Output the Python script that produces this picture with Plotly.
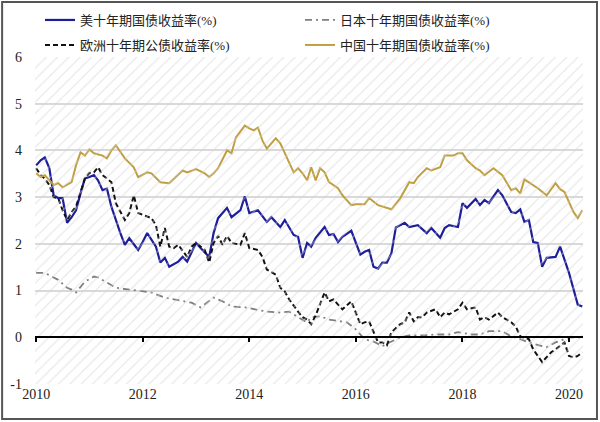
import plotly.graph_objects as go

# --- data ---
us_dates = [
    "2010-01", "2010-02", "2010-03", "2010-04", "2010-05", "2010-06", "2010-07", "2010-08",
    "2010-09", "2010-10", "2010-11", "2010-12", "2011-01", "2011-02", "2011-03", "2011-04",
    "2011-05", "2011-06", "2011-08", "2011-09", "2011-10", "2011-11", "2011-12", "2012-01",
    "2012-02", "2012-04", "2012-05", "2012-06", "2012-07", "2012-09", "2012-10", "2012-11",
    "2013-01", "2013-02", "2013-04", "2013-05", "2013-06", "2013-08", "2013-09", "2013-11",
    "2013-12", "2014-01", "2014-03", "2014-05", "2014-06", "2014-08", "2014-09", "2014-11",
    "2014-12", "2015-01", "2015-02", "2015-03", "2015-04", "2015-06", "2015-07", "2015-08",
    "2015-09", "2015-10", "2015-12", "2016-02", "2016-03", "2016-04", "2016-05", "2016-06",
    "2016-07", "2016-08", "2016-09", "2016-10", "2016-12", "2017-01", "2017-03", "2017-05",
    "2017-06", "2017-08", "2017-09", "2017-10", "2017-12", "2018-01", "2018-02", "2018-04",
    "2018-05", "2018-06", "2018-07", "2018-09", "2018-10", "2018-12", "2019-01", "2019-02",
    "2019-03", "2019-04", "2019-05", "2019-06", "2019-07", "2019-08", "2019-10", "2019-11",
    "2020-01", "2020-03", "2020-04",
]
us_yield = [
    3.68, 3.79, 3.85, 3.62, 3.04, 2.98, 2.98, 2.45,
    2.57, 2.72, 3.08, 3.40, 3.43, 3.47, 3.36, 3.15,
    3.18, 2.79, 2.23, 1.98, 2.12, 1.98, 1.87, 2.04,
    2.23, 1.94, 1.60, 1.70, 1.51, 1.62, 1.72, 1.62,
    2.02, 1.91, 1.72, 2.23, 2.55, 2.77, 2.57, 2.72,
    3.02, 2.66, 2.72, 2.47, 2.57, 2.36, 2.51, 2.19,
    2.15, 1.70, 2.02, 1.94, 2.13, 2.36, 2.19, 2.21,
    2.04, 2.15, 2.28, 1.77, 1.83, 1.87, 1.51, 1.47,
    1.60, 1.60, 1.80, 2.35, 2.45, 2.36, 2.40, 2.23,
    2.34, 2.13, 2.34, 2.40, 2.36, 2.87, 2.77, 2.96,
    2.83, 2.94, 2.87, 3.15, 3.04, 2.68, 2.66, 2.74,
    2.47, 2.51, 2.04, 2.02, 1.51, 1.70, 1.72, 1.94,
    1.38, 0.70, 0.66,
]

jp_dates = [
    "2010-01", "2010-03", "2010-06", "2010-08", "2010-09", "2010-10", "2010-12", "2011-02",
    "2011-03", "2011-05", "2011-07", "2011-10", "2012-01", "2012-03", "2012-06", "2012-08",
    "2012-10", "2012-12", "2013-02", "2013-03", "2013-05", "2013-07", "2013-09", "2013-12",
    "2014-02", "2014-05", "2014-08", "2014-10", "2014-12", "2015-02", "2015-03", "2015-05",
    "2015-07", "2015-10", "2015-11", "2016-01", "2016-03", "2016-05", "2016-07", "2016-09",
    "2016-11", "2017-01", "2017-04", "2017-07", "2017-10", "2017-12", "2018-03", "2018-05",
    "2018-07", "2018-10", "2018-12", "2019-02", "2019-04", "2019-07", "2019-08", "2019-10",
    "2019-12", "2020-01", "2020-04",
]
jp_yield = [
    1.38, 1.38, 1.23, 1.06, 1.02, 0.96, 1.19, 1.30,
    1.28, 1.17, 1.06, 1.02, 0.98, 0.96, 0.85, 0.81,
    0.77, 0.74, 0.64, 0.70, 0.85, 0.77, 0.66, 0.64,
    0.60, 0.55, 0.53, 0.55, 0.43, 0.32, 0.43, 0.45,
    0.38, 0.34, 0.32, 0.17, -0.04, -0.09, -0.19, -0.09,
    0.00, 0.04, 0.04, 0.06, 0.06, 0.11, 0.06, 0.06,
    0.13, 0.13, 0.02, -0.04, -0.11, -0.19, -0.21, -0.11,
    -0.04, 0.00, 0.00,
]

eu_dates = [
    "2010-01", "2010-02", "2010-03", "2010-04", "2010-05", "2010-06", "2010-07", "2010-08",
    "2010-09", "2010-10", "2010-11", "2010-12", "2011-01", "2011-02", "2011-03", "2011-04",
    "2011-05", "2011-06", "2011-07", "2011-09", "2011-10", "2011-11", "2011-12", "2012-01",
    "2012-03", "2012-04", "2012-05", "2012-06", "2012-07", "2012-08", "2012-09", "2012-11",
    "2012-12", "2013-01", "2013-03", "2013-04", "2013-05", "2013-06", "2013-07", "2013-08",
    "2013-09", "2013-11", "2013-12", "2014-01", "2014-03", "2014-04", "2014-05", "2014-07",
    "2014-08", "2014-09", "2014-10", "2014-12", "2015-01", "2015-02", "2015-03", "2015-04",
    "2015-06", "2015-07", "2015-08", "2015-09", "2015-10", "2015-12", "2016-02", "2016-03",
    "2016-04", "2016-06", "2016-07", "2016-08", "2016-09", "2016-11", "2016-12", "2017-01",
    "2017-02", "2017-03", "2017-04", "2017-05", "2017-07", "2017-08", "2017-09", "2017-10",
    "2017-12", "2018-01", "2018-02", "2018-04", "2018-05", "2018-06", "2018-07", "2018-09",
    "2018-10", "2018-12", "2019-01", "2019-02", "2019-04", "2019-05", "2019-07", "2019-09",
    "2019-10", "2019-12", "2020-01", "2020-02", "2020-03", "2020-04",
]
eu_yield = [
    3.62, 3.47, 3.40, 3.26, 3.00, 2.98, 2.72, 2.51,
    2.68, 2.80, 3.10, 3.40, 3.52, 3.53, 3.64, 3.47,
    3.40, 3.32, 2.87, 2.51, 2.66, 3.04, 2.66, 2.62,
    2.55, 2.40, 1.94, 2.34, 1.94, 1.91, 1.98, 1.72,
    1.94, 2.02, 1.87, 1.60, 2.02, 2.17, 1.98, 2.17,
    2.02, 1.98, 2.23, 1.91, 1.87, 1.72, 1.45, 1.34,
    1.06, 0.98, 0.81, 0.55, 0.43, 0.38, 0.28, 0.47,
    0.96, 0.77, 0.81, 0.70, 0.60, 0.77, 0.28, 0.32,
    0.34, -0.11, -0.11, -0.17, 0.11, 0.28, 0.32, 0.53,
    0.34, 0.43, 0.43, 0.53, 0.60, 0.43, 0.53, 0.49,
    0.60, 0.74, 0.60, 0.64, 0.38, 0.43, 0.38, 0.53,
    0.43, 0.32, 0.23, 0.02, -0.04, -0.26, -0.53, -0.32,
    -0.26, -0.11, -0.40, -0.43, -0.40, -0.32,
]

cn_dates = [
    "2010-01", "2010-02", "2010-03", "2010-04", "2010-05", "2010-06", "2010-07", "2010-09",
    "2010-10", "2010-11", "2010-12", "2011-01", "2011-02", "2011-04", "2011-05", "2011-06",
    "2011-07", "2011-09", "2011-11", "2011-12", "2012-02", "2012-03", "2012-05", "2012-07",
    "2012-09", "2012-10", "2012-11", "2013-01", "2013-03", "2013-04", "2013-05", "2013-06",
    "2013-08", "2013-09", "2013-10", "2013-12", "2014-01", "2014-02", "2014-03", "2014-04",
    "2014-05", "2014-07", "2014-08", "2014-10", "2014-11", "2014-12", "2015-01", "2015-02",
    "2015-03", "2015-04", "2015-05", "2015-06", "2015-07", "2015-09", "2015-10", "2015-12",
    "2016-01", "2016-03", "2016-04", "2016-06", "2016-08", "2016-09", "2016-11", "2017-01",
    "2017-02", "2017-03", "2017-05", "2017-06", "2017-08", "2017-09", "2017-11", "2017-12",
    "2018-01", "2018-02", "2018-04", "2018-05", "2018-06", "2018-08", "2018-10", "2018-12",
    "2019-01", "2019-02", "2019-03", "2019-05", "2019-06", "2019-08", "2019-10", "2019-11",
    "2019-12", "2020-02", "2020-03", "2020-04",
]
cn_yield = [
    3.51, 3.43, 3.47, 3.36, 3.26, 3.30, 3.21, 3.32,
    3.68, 3.96, 3.89, 4.02, 3.94, 3.89, 3.83, 4.00,
    4.11, 3.83, 3.64, 3.43, 3.53, 3.51, 3.32, 3.30,
    3.47, 3.57, 3.53, 3.60, 3.51, 3.43, 3.51, 3.62,
    4.00, 3.94, 4.28, 4.53, 4.47, 4.43, 4.49, 4.21,
    4.04, 4.26, 4.15, 3.74, 3.53, 3.62, 3.51, 3.36,
    3.64, 3.36, 3.62, 3.53, 3.32, 3.19, 3.04, 2.83,
    2.85, 2.85, 2.98, 2.83, 2.77, 2.74, 2.98, 3.32,
    3.30, 3.43, 3.62, 3.57, 3.64, 3.89, 3.89, 3.94,
    3.94, 3.79, 3.62, 3.57, 3.47, 3.62, 3.47, 3.15,
    3.19, 3.08, 3.38, 3.26, 3.19, 3.04, 3.30, 3.17,
    3.11, 2.68, 2.55, 2.72,
]

year_ticks = ["2010", "2012", "2014", "2016", "2018", "2020"]
y_ticks = [-1, 0, 1, 2, 3, 4, 5, 6]
y_labels = ["-1", "0", "1", "2", "3", "4", "5", "6"]
x_range = ["2009-12-24", "2020-04-06"]
y_range = [-1, 6]

serif = "'Liberation Serif', 'Noto Sans CJK SC', serif"
legend_font = dict(family=serif, size=13, color="#222222")

fig = go.Figure()

# hatched plot background
fig.add_trace(go.Scatter(
    x=[x_range[0], x_range[1], x_range[1], x_range[0], x_range[0]],
    y=[y_range[0], y_range[0], y_range[1], y_range[1], y_range[0]],
    xaxis="x2", mode="lines", fill="toself",
    fillcolor="rgba(0,0,0,0)", line=dict(width=0),
    fillpattern=dict(shape="/", size=8, solidity=0.15,
                     fgcolor="#d2d2d2", fillmode="overlay"),
    hoverinfo="skip", showlegend=False,
))

fig.add_trace(go.Scatter(
    x=us_dates, y=us_yield, mode="lines", name="美十年期国债收益率(%)",
    line=dict(color="#1e1e9a", width=2.2), legend="legend",
))
fig.add_trace(go.Scatter(
    x=jp_dates, y=jp_yield, mode="lines", name="日本十年期国债收益率(%)",
    line=dict(color="#808080", width=1.8, dash="7px,4px,2px,4px"), legend="legend",
))
fig.add_trace(go.Scatter(
    x=eu_dates, y=eu_yield, mode="lines", name="欧洲十年期公债收益率(%)",
    line=dict(color="#111111", width=2, dash="5px,3px"), legend="legend2",
))
fig.add_trace(go.Scatter(
    x=cn_dates, y=cn_yield, mode="lines", name="中国十年期国债收益率(%)",
    line=dict(color="#bf9f40", width=2), legend="legend2",
))

legend_common = dict(
    orientation="h", xref="container", x=40 / 600, xanchor="left",
    yref="container", yanchor="middle", entrywidth=215,
    font=legend_font, bgcolor="rgba(0,0,0,0)",
)

fig.update_layout(
    width=600, height=422,
    margin=dict(l=35, r=17, t=57, b=38, autoexpand=False),
    paper_bgcolor="white", plot_bgcolor="white",
    font=dict(family=serif, size=14, color="#222222"),
    xaxis=dict(
        type="date", range=x_range, tickvals=year_ticks, ticktext=year_ticks,
        showgrid=False, showline=False, ticks="", zeroline=False,
    ),
    xaxis2=dict(
        type="date", range=x_range, overlaying="x", anchor="free",
        position=1 / 7, side="bottom", tickvals=year_ticks,
        showticklabels=False, showgrid=False, zeroline=False,
        showline=True, linecolor="#000000", linewidth=1.5,
        ticks="outside", ticklen=4, tickcolor="#000000", tickwidth=1.5,
    ),
    yaxis=dict(
        range=y_range, tickvals=y_ticks, ticktext=y_labels,
        showgrid=True, gridcolor="#d9d9d9", gridwidth=1.5,
        zeroline=False, showline=False, ticks="", ticklabelstandoff=12,
    ),
    legend=dict(legend_common, y=1 - 20 / 422),
    legend2=dict(legend_common, y=1 - 45 / 422),
    shapes=[dict(
        type="rect", xref="paper", yref="paper",
        x0=-0.060, x1=1.0255, y0=-0.107, y1=1.168,
        line=dict(color="#555555", width=2), fillcolor="rgba(0,0,0,0)",
        layer="below",
    )],
)

# the page body has a default 8px margin; drop it so the 600x422 figure fills the window
fig.write_html(
    "out.html",
    config={"displayModeBar": False},
    post_script="document.body.style.margin = '0';",
)
